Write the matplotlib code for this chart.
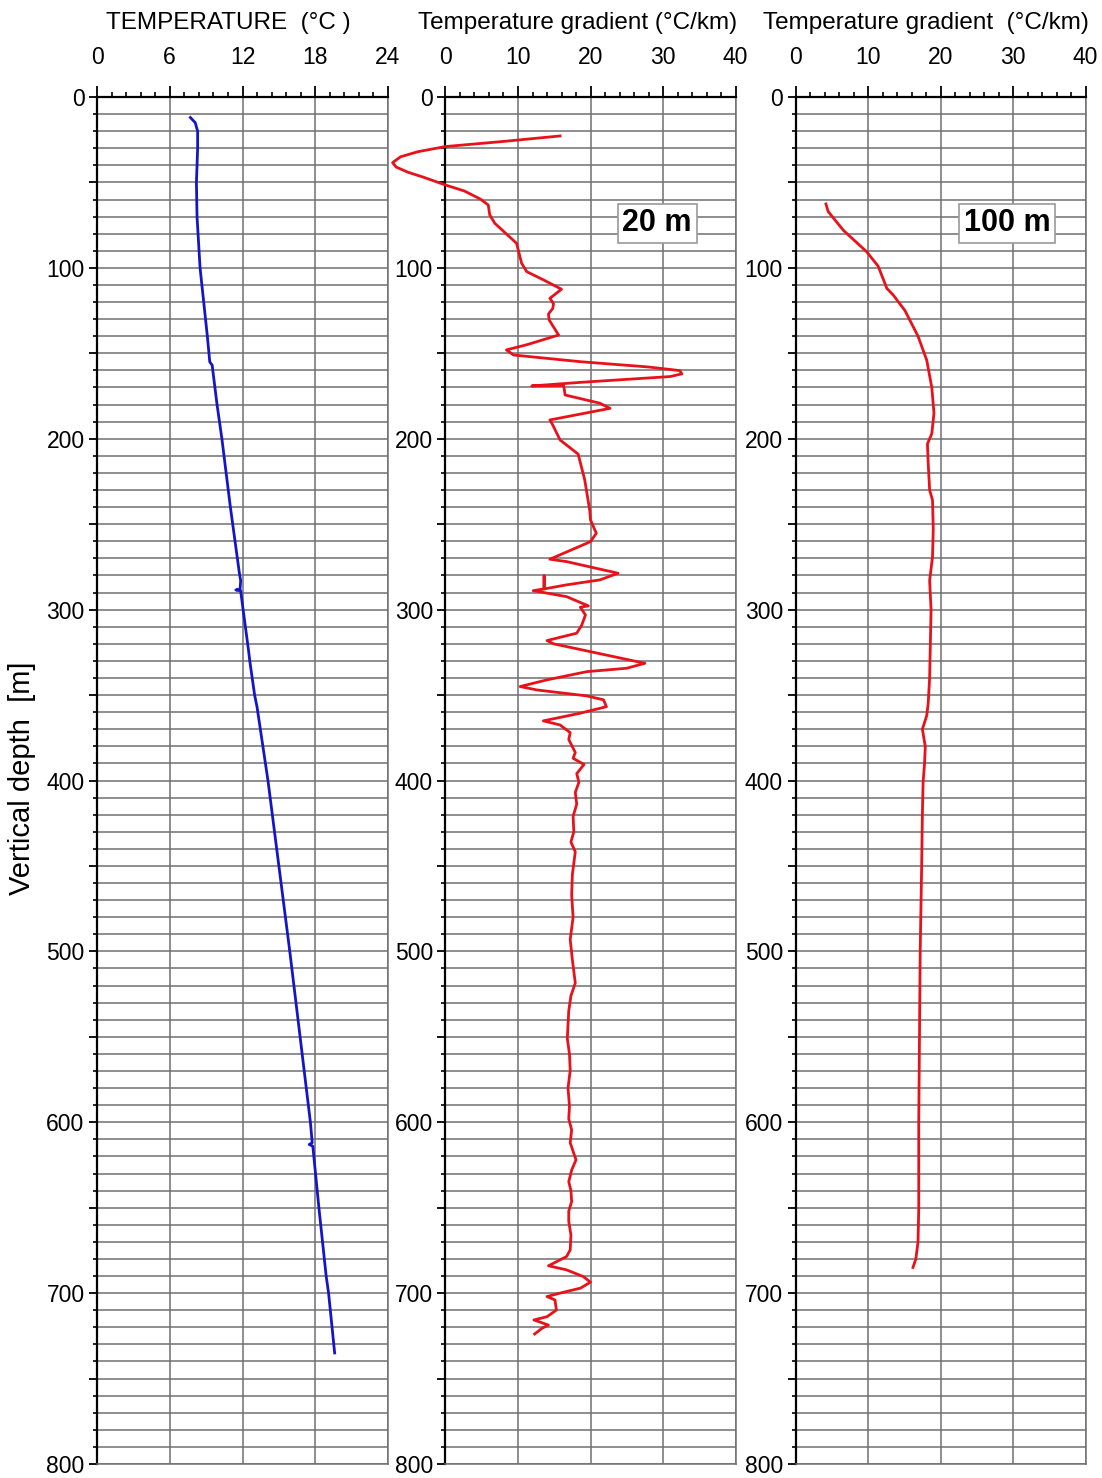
import matplotlib
matplotlib.use("Agg")
import matplotlib.pyplot as plt
from matplotlib.ticker import MultipleLocator, FuncFormatter

# ---------------- data ----------------
temp_depth = [12, 15, 20, 30, 50, 70, 100, 120, 140, 155, 157, 160, 180, 200, 240,
              279, 283, 288, 288.5, 289, 300, 324, 330, 350, 357, 400, 450, 500,
              550, 600, 612, 613, 614, 650, 690, 695, 700, 735]
temp_value = [7.7, 8.1, 8.3, 8.3, 8.2, 8.25, 8.5, 8.8, 9.1, 9.3, 9.5, 9.55, 9.9, 10.3, 11.0,
              11.75, 11.85, 11.8, 11.45, 11.85, 12.05, 12.5, 12.6, 13.0, 13.2, 14.1, 15.0, 15.9,
              16.75, 17.6, 17.75, 17.5, 17.8, 18.3, 18.9, 19.0, 19.1, 19.6]

grad20_depth = [22.8, 26, 29, 32, 35, 38.4, 41, 44, 47, 51.5, 55, 59.7, 63.2, 69, 73.9, 85.6,
                97.3, 102.2, 107, 112.5, 117.8, 121, 123.7, 127, 130.5, 137.3, 139.3, 145,
                148, 151, 154.9, 158, 160.1, 162, 163.6, 167, 169.1, 168.8, 174.4, 179.2,
                182.2, 189, 192, 200.7, 209, 224, 242, 247.5, 255.3, 260.2, 270.5, 271.9,
                278.7, 282.6, 285.5, 287.9, 280.2, 287.9, 288.9, 292.4, 297.8, 298.6, 303.1,
                309, 313.8, 318.1, 320, 324.6, 327.5, 331.4, 334.3, 336.3, 341.1, 345, 347,
                350.5, 352.8, 356.8, 360.6, 365.1, 367.5, 372, 376, 383.6, 387, 390.6, 396,
                401, 407, 413.8, 421, 430, 436, 441.7, 455, 467, 480, 493, 505, 518.5, 526,
                534.8, 543, 551, 560, 569.7, 580, 590.6, 598, 604.5, 612, 622, 628, 634.8,
                640, 646.4, 652, 658, 666, 674.7, 678.6, 684, 686.4, 690.3, 693.6, 697.1, 700,
                702, 704, 709.9, 713.8, 715.7, 718.7, 720.6, 723.9]
grad20_value = [15.8, 8.0, 0, -3.8, -6.2, -7.3, -6.8, -5.2, -3.0, 0, 2.6, 4.8, 5.9, 6.1, 6.8,
                9.8, 10.5, 11.2, 13.5, 16.0, 14.4, 14.9, 14.8, 14.2, 14.3, 15.3, 15.6, 11.2,
                8.4, 9.4, 18.6, 28.0, 32.3, 32.6, 31.0, 18.6, 11.9, 16.3, 16.5, 21.3,
                22.7, 14.4, 14.8, 15.8, 18.3, 19.2, 19.9, 20.0, 20.8, 20.0, 14.4, 16.7,
                23.8, 21.3, 16.7, 13.6, 13.6, 13.6, 12.1, 16.7, 19.7, 18.6, 19.3,
                18.8, 18.1, 14.0, 14.9, 20.0, 23.2, 27.5, 25.0, 19.5, 14.0, 10.3, 12.6,
                19.5, 21.8, 22.2, 18.6, 13.5, 15.8, 17.2, 17.0, 17.9, 17.6, 19.1, 18.1,
                18.4, 17.9, 18.1, 17.6, 17.7, 17.3, 17.9, 17.5, 17.4, 17.6, 17.2, 17.5, 17.9, 17.3,
                17.0, 16.9, 16.8, 17.1, 17.2, 16.9, 17.1, 17.0, 17.4, 17.2, 18.0, 17.4, 17.0,
                17.3, 17.4, 17.0, 17.0, 17.3, 17.2, 16.7, 14.2, 16.7, 19.0, 20.0, 18.6, 15.8,
                14.0, 15.1, 15.3, 14.0, 12.2, 14.2, 13.3, 12.3]

grad100_depth = [62.6, 67, 78, 90.5, 99, 112, 116, 125, 140, 154, 170, 185, 197, 203, 214,
                 230, 236, 253, 269, 283, 300, 320, 340, 355, 362, 370, 380, 390, 401, 420,
                 450, 500, 550, 600, 650, 670, 680, 685]
grad100_value = [4.2, 4.5, 6.6, 9.8, 11.4, 12.6, 13.5, 15.1, 16.9, 18.1, 18.8, 19.1, 18.8, 18.2, 18.3,
                 18.5, 18.9, 19.0, 18.9, 18.5, 18.7, 18.6, 18.5, 18.3, 18.1, 17.5, 17.9, 17.8, 17.6, 17.5,
                 17.4, 17.2, 17.1, 17.0, 17.0, 16.9, 16.6, 16.2]

titles = ["TEMPERATURE  (°C )", "Temperature gradient (°C/km)", "Temperature gradient  (°C/km)"]
xlims = [(0, 24), (0, 40), (0, 40)]
xticks = [[0, 6, 12, 18, 24], [0, 10, 20, 30, 40], [0, 10, 20, 30, 40]]
box_labels = [None, "20 m", "100 m"]
ylabel = "Vertical depth  [m]"

# ---------------- style ----------------
plt.rcParams["font.family"] = ["Liberation Sans", "DejaVu Sans"]

W, H = 1102, 1478
fig = plt.figure(figsize=(W / 100, H / 100), dpi=100)

lefts = [97, 445.5, 795.5]
widths = [291, 290, 290]
top_px, bot_px = 97, 1464
title_x = [228, 578, 926]

series = [(temp_value, temp_depth, "#1515c8"),
          (grad20_value, grad20_depth, "#e8121a"),
          (grad100_value, grad100_depth, "#e8121a")]

grid_col = "#707070"
for i in range(3):
    ax = fig.add_axes([lefts[i] / W, 1 - bot_px / H, widths[i] / W, (bot_px - top_px) / H])
    x, y, c = series[i]
    ax.plot(x, y, color=c, lw=2.0, solid_joinstyle="round", clip_on=False, zorder=3)
    ax.set_xlim(*xlims[i])
    ax.set_ylim(800, 0)
    ax.yaxis.set_major_locator(MultipleLocator(50))
    ax.yaxis.set_minor_locator(MultipleLocator(10))
    ax.yaxis.set_major_formatter(FuncFormatter(lambda v, p: f"{int(v)}" if v % 100 == 0 else ""))
    ax.grid(True, which="both", axis="y", color=grid_col, lw=1.1)
    ax.set_xticks(xticks[i])
    step = (xticks[i][1] - xticks[i][0]) / 5
    ax.xaxis.set_minor_locator(MultipleLocator(step))
    ax.grid(True, which="major", axis="x", color=grid_col, lw=1.1)
    ax.set_axisbelow(True)
    ax.xaxis.tick_top()
    ax.tick_params(axis="x", which="major", direction="out", length=8, width=1.3,
                   pad=12, labelsize=16.5, colors="black")
    ax.tick_params(axis="x", which="minor", direction="out", length=3.6, width=1.2)
    ax.tick_params(axis="y", which="major", direction="out", length=6, width=1.3,
                   pad=3, labelsize=16.5)
    ax.tick_params(axis="y", which="minor", direction="out", length=3, width=1.2)
    ax.spines["left"].set_linewidth(1.6)
    ax.spines["top"].set_linewidth(1.6)
    for s in ("right", "bottom"):
        ax.spines[s].set_color(grid_col)
        ax.spines[s].set_linewidth(1.1)
    fig.text(title_x[i] / W, 1 - 23 / H, titles[i], ha="center", va="center", fontsize=17.5)
    if box_labels[i]:
        ax.text(29.2, 74, box_labels[i], ha="center", va="center", fontsize=22,
                fontweight="bold", zorder=4,
                bbox=dict(boxstyle="square,pad=0.15", fc="white", ec="#9a9a9a", lw=1.2))

fig.text(22 / W, 1 - 778 / H, ylabel, rotation=90, ha="center", va="center", fontsize=21)

fig.savefig("out.png", dpi=100)
